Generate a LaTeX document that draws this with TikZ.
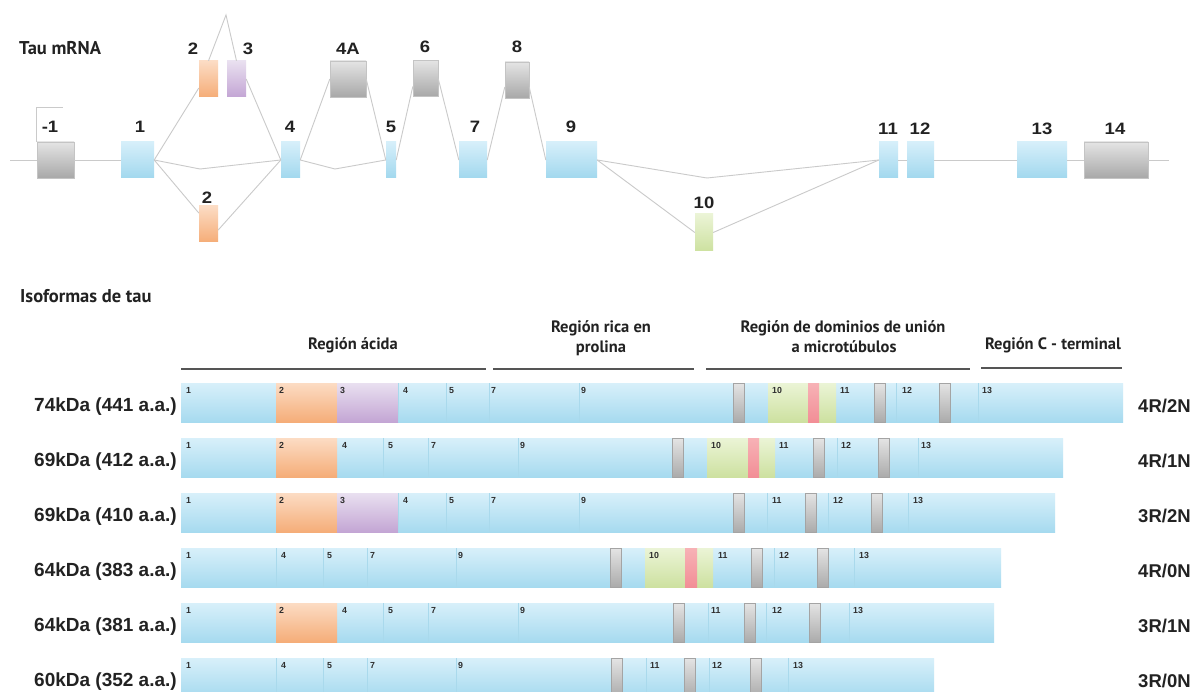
\documentclass[tikz,border=0pt]{standalone}
\usepackage{fontspec}
\setmainfont{Liberation Sans}
\newfontfamily\hdrfam{PT Sans}
\newfontfamily\exfam[FakeStretch=1.12]{Liberation Sans}
\usetikzlibrary{calc}
\definecolor{bluA}{HTML}{D6EFFA}
\definecolor{bluB}{HTML}{A2D8EE}
\definecolor{barA}{HTML}{D8F0FA}
\definecolor{barB}{HTML}{A6DAEF}
\definecolor{gryA}{HTML}{E4E4E4}
\definecolor{gryB}{HTML}{A8A8A8}
\definecolor{gryC}{HTML}{C4C4C4}
\definecolor{orA}{HTML}{FCDCC4}
\definecolor{orB}{HTML}{F5AD78}
\definecolor{puA}{HTML}{E9E0F0}
\definecolor{puB}{HTML}{C3A5D4}
\definecolor{grnA}{HTML}{EBF4D6}
\definecolor{grnB}{HTML}{CDE1A0}
\definecolor{pkA}{HTML}{F7B2B6}
\definecolor{pkB}{HTML}{F28E96}
\definecolor{mkA}{HTML}{E4E4E4}
\definecolor{mkB}{HTML}{ABABAB}
\definecolor{mkC}{HTML}{A4A4A4}
\definecolor{splicegray}{HTML}{CACACA}
\definecolor{divc}{HTML}{A9D9EC}
\definecolor{labdark}{HTML}{222222}
\definecolor{smalldark}{HTML}{2E2E2E}
\definecolor{hlinec}{HTML}{555555}
\tikzset{
  splice/.style={draw=splicegray, line width=0.9pt},
  exbox/.style={rectangle, inner sep=0pt, minimum height=36pt},
  blueex/.style={exbox, top color=bluA, bottom color=bluB},
  grayex/.style={exbox, top color=gryA, bottom color=gryB, draw=gryC, line width=0.4pt},
  orex/.style={exbox, top color=orA, bottom color=orB},
  puex/.style={exbox, top color=puA, bottom color=puB},
  grex/.style={exbox, top color=grnA, bottom color=grnB},
  exlab/.style={font=\exfam\bfseries\fontsize{16.5}{17}\selectfont, text=labdark, anchor=base, inner sep=0pt},
  titlelab/.style={font=\hdrfam\bfseries\fontsize{18.5}{20}\selectfont, text=labdark, anchor=base west, inner sep=0pt},
  hdrlab/.style={font=\hdrfam\bfseries\fontsize{16.5}{18}\selectfont, text=labdark, anchor=base, inner sep=0pt},
  rowlabl/.style={font=\bfseries\fontsize{19}{20}\selectfont, text=labdark, anchor=base east, inner sep=0pt},
  rowlabr/.style={font=\bfseries\fontsize{18.5}{20}\selectfont, text=labdark, anchor=base west, inner sep=0pt},
  smalllab/.style={font=\bfseries\fontsize{8.8}{9}\selectfont, text=smalldark, anchor=base west, inner sep=0pt},
  divl/.style={draw=divc, line width=0.5pt},
  hline/.style={draw=hlinec, line width=1.8pt},
}
\newcommand\rowbar[2]{\shade[top color=barA,bottom color=barB] (181,#1) rectangle (#2,#1+39);}
\newcommand\rowseg[5]{\shade[top color=#4,bottom color=#5] (#1,#3) rectangle (#2,#3+39);}
\newcommand\rowmark[2]{\shade[top color=mkA,bottom color=mkB,draw=mkC,line width=0.5pt] (#1,#2) rectangle (#1+11.5,#2+39);}
\newcommand\rowdiv[2]{\draw[divl] (#1,#2) -- (#1,#2+39);}
\newcommand\rowlab[3]{\node[smalllab] at (#1,#2+10) {#3};}
\begin{document}
\begin{tikzpicture}[x=1pt,y=-1pt]
\useasboundingbox (0,0) rectangle (1191,692);
\fill[white] (0,0) rectangle (1191,692);

% ---------- Tau mRNA ----------
\node[titlelab] (ttl1) at (19,55) {Tau mRNA};

\node[grayex, minimum width=37pt] (em1) at (55.5,160) {};
\node[blueex, minimum width=33pt] (e1) at (137.5,160) {};
\node[orex, minimum width=19pt] (e2a) at (208.5,79) {};
\node[puex, minimum width=19pt] (e3) at (236.5,79) {};
\node[orex, minimum width=19pt] (e2b) at (208.5,224) {};
\node[blueex, minimum width=19pt] (e4) at (290.5,160) {};
\node[grayex, minimum width=36pt] (e4a) at (348,79) {};
\node[blueex, minimum width=10pt] (e5) at (391,160) {};
\node[grayex, minimum width=25pt] (e6) at (425.5,78.5) {};
\node[blueex, minimum width=28pt] (e7) at (473,160) {};
\node[grayex, minimum width=24pt] (e8) at (517,80) {};
\node[blueex, minimum width=51pt] (e9) at (571.5,160) {};
\node[grex, minimum width=18pt, minimum height=37pt] (e10) at (704,232.5) {};
\node[blueex, minimum width=19pt] (e11) at (888.5,160) {};
\node[blueex, minimum width=27pt] (e12) at (920.5,160) {};
\node[blueex, minimum width=50pt] (e13) at (1042,160) {};
\node[grayex, minimum width=64pt] (e14) at (1116,160) {};

\coordinate (b0) at (10,160);
\coordinate (b1) at (1169,160);
\coordinate (peak) at (226,15);
\coordinate (m1) at (200,169);
\coordinate (m2) at (335,169);
\coordinate (m3) at (707,178);
\coordinate (tss) at (63,107);

\draw[splice] (b0) -- (em1.west);
\draw[splice] (em1.east) -- (e1.west);
\draw[splice] (e11.east) -- (e12.west);
\draw[splice] (e12.east) -- (e13.west);
\draw[splice] (e13.east) -- (e14.west);
\draw[splice] (e14.east) -- (b1);
\draw[splice] (em1.north west) |- (tss);
\draw[splice] (e1.east) -- ([yshift=-9pt]e2a.west);
\draw[splice] (e2a.north) -- (peak) -- (e3.north);
\draw[splice] (e3.east) -- (e4.west);
\draw[splice] (e1.east) -- (m1) -- (e4.west);
\draw[splice] (e1.east) -- ([yshift=11pt]e2b.west);
\draw[splice] ([yshift=-6pt]e2b.east) -- (e4.west);
\draw[splice] (e4.east) -- (e4a.west);
\draw[splice] (e4a.east) -- (e5.west);
\draw[splice] (e4.east) -- (m2) -- (e5.west);
\draw[splice] (e5.east) -- ([yshift=-8pt]e6.west);
\draw[splice] (e6.east) -- (e7.west);
\draw[splice] (e7.east) -- ([yshift=-7pt]e8.west);
\draw[splice] ([yshift=-7pt]e8.east) -- (e9.west);
\draw[splice] (e9.east) -- (m3) -- (e11.west);
\draw[splice] (e9.east) -- (e10.west);
\draw[splice] (e10.east) -- (e11.west);

\node[exlab] (lm1) at (50,133) {-1};
\node[exlab] (l1) at (140,133) {1};
\node[exlab] (l2a) at (193,55) {2};
\node[exlab] (l3) at (248,55) {3};
\node[exlab] (l2b) at (207,204) {2};
\node[exlab] (l4) at (290,133) {4};
\node[exlab] (l4a) at (348,55) {4A};
\node[exlab] (l5) at (391,133) {5};
\node[exlab] (l6) at (425,53) {6};
\node[exlab] (l7) at (475,133) {7};
\node[exlab] (l8) at (517,53) {8};
\node[exlab] (l9) at (571,133) {9};
\node[exlab] (l10) at (704,209) {10};
\node[exlab] (l11) at (888,135) {11};
\node[exlab] (l12) at (920,135) {12};
\node[exlab] (l13) at (1042,135) {13};
\node[exlab] (l14) at (1115,135) {14};

% ---------- Isoformas ----------
\node[titlelab] (ttl2) at (20,303) {Isoformas de tau};

\node[hdrlab] (h1) at (353,350) {Región ácida};
\node[hdrlab] (h2a) at (601,333) {Región rica en};
\node[hdrlab] (h2b) at (601,353) {prolina};
\node[hdrlab] (h3a) at (843,333) {Región de dominios de unión};
\node[hdrlab] (h3b) at (844,353) {a microtúbulos};
\node[hdrlab] (h4) at (1053,350) {Región C - terminal};
\draw[hline] (181,369) -- (486,369);
\draw[hline] (493,369) -- (694,369);
\draw[hline] (706,369) -- (970,369);
\draw[hline] (981,368) -- (1122,368);

% Row 1
\rowbar{383}{1123}
\rowseg{276}{337}{383}{orA}{orB}
\rowseg{337}{398}{383}{puA}{puB}
\rowseg{768}{836}{383}{grnA}{grnB}
\rowseg{808}{819}{383}{pkA}{pkB}
\foreach \x in {398,446,489,579,896,978} {\rowdiv{\x}{383}}
\foreach \x in {733,874,939} {\rowmark{\x}{383}}
\foreach \x/\t in {186/1,279/2,340/3,403/4,449/5,491/7,581/9,772/10,840/11,902/12,982/13} {\rowlab{\x}{383}{\t}}
\node[rowlabl] (r1l) at (177,411) {74kDa (441 a.a.)};
\node[rowlabr] (r1r) at (1138,412) {4R/2N};

% Row 2
\rowbar{438}{1063}
\rowseg{276}{337}{438}{orA}{orB}
\rowseg{707}{775}{438}{grnA}{grnB}
\rowseg{748}{759}{438}{pkA}{pkB}
\foreach \x in {383,428,518,837,918} {\rowdiv{\x}{438}}
\foreach \x in {672,813,878} {\rowmark{\x}{438}}
\foreach \x/\t in {186/1,279/2,342/4,388/5,431/7,520/9,711/10,779/11,841/12,921/13} {\rowlab{\x}{438}{\t}}
\node[rowlabl] (r2l) at (177,466) {69kDa (412 a.a.)};
\node[rowlabr] (r2r) at (1138,467) {4R/1N};

% Row 3
\rowbar{493}{1055}
\rowseg{276}{337}{493}{orA}{orB}
\rowseg{337}{398}{493}{puA}{puB}
\foreach \x in {398,446,489,579,767,828,908} {\rowdiv{\x}{493}}
\foreach \x in {733,805,871} {\rowmark{\x}{493}}
\foreach \x/\t in {186/1,279/2,340/3,403/4,449/5,491/7,581/9,772/11,833/12,913/13} {\rowlab{\x}{493}{\t}}
\node[rowlabl] (r3l) at (177,521) {69kDa (410 a.a.)};
\node[rowlabr] (r3r) at (1138,522) {3R/2N};

% Row 4
\rowbar{548}{1001}
\rowseg{645}{713}{548}{grnA}{grnB}
\rowseg{685}{697}{548}{pkA}{pkB}
\foreach \x in {276,323,367,456,774,854} {\rowdiv{\x}{548}}
\foreach \x in {610,751,817} {\rowmark{\x}{548}}
\foreach \x/\t in {186/1,281/4,327/5,370/7,458/9,649/10,718/11,779/12,859/13} {\rowlab{\x}{548}{\t}}
\node[rowlabl] (r4l) at (177,576) {64kDa (383 a.a.)};
\node[rowlabr] (r4r) at (1138,577) {4R/0N};

% Row 5
\rowbar{603}{994}
\rowseg{276}{337}{603}{orA}{orB}
\foreach \x in {383,428,518,708,766,849} {\rowdiv{\x}{603}}
\foreach \x in {673,744,809} {\rowmark{\x}{603}}
\foreach \x/\t in {186/1,279/2,342/4,388/5,431/7,520/9,711/11,772/12,853/13} {\rowlab{\x}{603}{\t}}
\node[rowlabl] (r5l) at (177,631) {64kDa (381 a.a.)};
\node[rowlabr] (r5r) at (1138,632) {3R/1N};

% Row 6
\rowbar{658}{934}
\foreach \x in {276,323,367,456,646,709,788} {\rowdiv{\x}{658}}
\foreach \x in {611,684,750} {\rowmark{\x}{658}}
\foreach \x/\t in {186/1,281/4,327/5,370/7,458/9,650/11,712/12,793/13} {\rowlab{\x}{658}{\t}}
\node[rowlabl] (r6l) at (177,686) {60kDa (352 a.a.)};
\node[rowlabr] (r6r) at (1138,687) {3R/0N};
\end{tikzpicture}
\end{document}
